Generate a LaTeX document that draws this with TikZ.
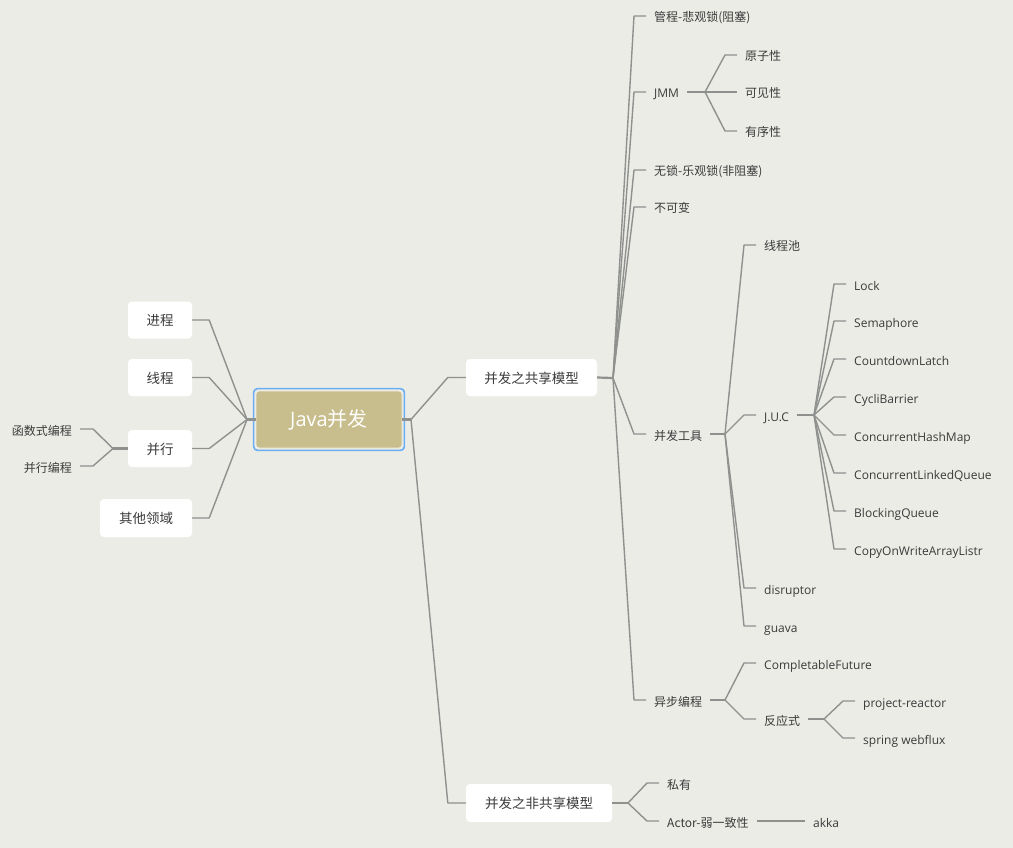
\documentclass[tikz,border=0pt]{standalone}
\usepackage{fontspec}
\setmainfont{Open Sans}
\newfontfamily\cjk{Noto Sans CJK SC}
\definecolor{bg}{HTML}{ECECE7}
\definecolor{ln}{HTML}{8E918E}
\definecolor{tx}{HTML}{3A3A3A}
\definecolor{rootfill}{HTML}{C8BD8C}
\definecolor{sel}{HTML}{6AAEF2}
\begin{document}
\begin{tikzpicture}[x=1pt,y=-1pt,
  leaf/.style={inner xsep=8pt, inner ysep=0pt, text height=12pt, text depth=0pt,
    font=\fontsize{12}{12}\selectfont, text=tx},
  leafw/.style={leaf, anchor=west},
  leafe/.style={leaf, anchor=east},
  mainbox/.style={fill=white, rounded corners=4pt, text=tx, inner sep=0pt,
    text height=11pt, text depth=0pt,
    font=\fontsize{13.5}{14}\selectfont\cjk, minimum height=37pt},
  conn/.style={draw=ln, line width=1.4pt, line join=round},
  stem/.style={draw=ln, line width=2.2pt}]
\useasboundingbox (0,0) rectangle (1013,848);
\fill[bg] (0,0) rectangle (1013,848);

% root
\node[fill=rootfill, draw=white!75!rootfill, line width=0.8pt, rounded corners=3pt,
  minimum width=146pt, minimum height=57pt, inner sep=0pt, text=white,
  font=\fontsize{20}{20}\selectfont] (root) at (329,419.5) {Java{\cjk 并发}};
\draw[sel, line width=1.6pt, rounded corners=4pt]
  ([shift={(-2,-2)}]root.north west) rectangle ([shift={(2,2)}]root.south east);

% left main nodes
\node[mainbox, minimum width=64pt] (p1) at (160,320) {进程};
\node[mainbox, minimum width=64pt] (p2) at (160,377.5) {线程};
\node[mainbox, minimum width=64pt] (p3) at (160,448.5) {并行};
\node[mainbox, minimum width=92pt, minimum height=38pt] (p4) at (146,518) {其他领域};
\node[leafe, font=\fontsize{12}{12}\selectfont\cjk] (p31) at (80,429) {函数式编程};
\node[leafe, font=\fontsize{12}{12}\selectfont\cjk] (p32) at (80,466) {并行编程};

% right main nodes
\node[mainbox, minimum width=131pt] (s) at (531.5,377.5) {并发之共享模型};
\node[mainbox, minimum width=146pt, minimum height=38pt] (ns) at (539,803) {并发之非共享模型};

% shared model children
\node[leafw] (s1) at (646,16) {\cjk 管程-悲观锁(阻塞)};
\node[leafw] (s2) at (646,92) {JMM};
\node[leafw] (s3) at (646,170) {\cjk 无锁-乐观锁(非阻塞)};
\node[leafw] (s4) at (646,207) {\cjk 不可变};
\node[leafw] (s5) at (646,434) {\cjk 并发工具};
\node[leafw] (s6) at (646,700) {\cjk 异步编程};

\node[leafw] (m1) at (737,55) {\cjk 原子性};
\node[leafw] (m2) at (737,92) {\cjk 可见性};
\node[leafw] (m3) at (737,131) {\cjk 有序性};

\node[leafw] (t1) at (756,245) {\cjk 线程池};
\node[leafw] (t2) at (756,415) {J.U.C};
\node[leafw] (t3) at (756,588) {disruptor};
\node[leafw] (t4) at (756,626) {guava};

\node[leafw] (u1) at (846,284) {Lock};
\node[leafw] (u2) at (846,321) {Semaphore};
\node[leafw] (u3) at (846,359) {CountdownLatch};
\node[leafw] (u4) at (846,397) {CycliBarrier};
\node[leafw] (u5) at (846,435) {ConcurrentHashMap};
\node[leafw] (u6) at (846,473) {ConcurrentLinkedQueue};
\node[leafw] (u7) at (846,511) {BlockingQueue};
\node[leafw] (u8) at (846,549) {CopyOnWriteArrayListr};

\node[leafw] (a1) at (756,663) {CompletableFuture};
\node[leafw] (a2) at (756,719) {\cjk 反应式};
\node[leafw] (r1) at (855,701) {project-reactor};
\node[leafw] (r2) at (855,738) {spring webflux};

% non-shared children
\node[leafw] (n1) at (659,783) {\cjk 私有};
\node[leafw] (n2) at (659,821) {\cjk Actor-弱一致性};
\node[leafw] (n3) at (805,821) {akka};

% junctions
\coordinate (lj) at (247,419.5);
\coordinate (rj) at (411,419.5);
\coordinate (parj) at (113,448.5);
\coordinate (sj) at (613,378);
\coordinate (jmmj) at (705,92);
\coordinate (toolj) at (725,434);
\coordinate (jucj) at (814,415);
\coordinate (asyncj) at (725,700);
\coordinate (reactj) at (824,719);
\coordinate (nsj) at (628,803);

% left connectors
\draw[stem] (lj) -- (root.west);
\foreach \n in {p1,p2,p3,p4}
  \draw[conn] (\n.east) -- ([xshift=17pt]\n.east) -- (lj);
\draw[stem] (p3.west) -- (parj);
\foreach \n in {p31,p32}
  \draw[conn] (parj) -- ([xshift=13pt]\n.east) -- (\n.east);

% right connectors
\draw[stem] (root.east) -- (rj);
\foreach \n in {s,ns}
  \draw[conn] (rj) -- ([xshift=-18pt]\n.west) -- (\n.west);

\draw[stem] (s.east) -- (sj);
\foreach \n in {s1,s2,s3,s4,s5,s6}
  \draw[conn] (sj) -- ([xshift=-12pt]\n.west) -- (\n.west);

\draw[stem] (s2.east) -- (jmmj);
\foreach \n in {m1,m2,m3}
  \draw[conn] (jmmj) -- ([xshift=-12pt]\n.west) -- (\n.west);

\draw[stem] (s5.east) -- (toolj);
\foreach \n in {t1,t2,t3,t4}
  \draw[conn] (toolj) -- ([xshift=-12pt]\n.west) -- (\n.west);

\draw[stem] (t2.east) -- (jucj);
\foreach \n in {u1,u2,u3,u4,u5,u6,u7,u8}
  \draw[conn] (jucj) -- ([xshift=-12pt]\n.west) -- (\n.west);

\draw[stem] (s6.east) -- (asyncj);
\foreach \n in {a1,a2}
  \draw[conn] (asyncj) -- ([xshift=-12pt]\n.west) -- (\n.west);

\draw[stem] (a2.east) -- (reactj);
\foreach \n in {r1,r2}
  \draw[conn] (reactj) -- ([xshift=-12pt]\n.west) -- (\n.west);

\draw[stem] (ns.east) -- (nsj);
\foreach \n in {n1,n2}
  \draw[conn] (nsj) -- ([xshift=-12pt]\n.west) -- (\n.west);

\draw[stem] (n2.east) -- (n3.west);
\end{tikzpicture}
\end{document}
